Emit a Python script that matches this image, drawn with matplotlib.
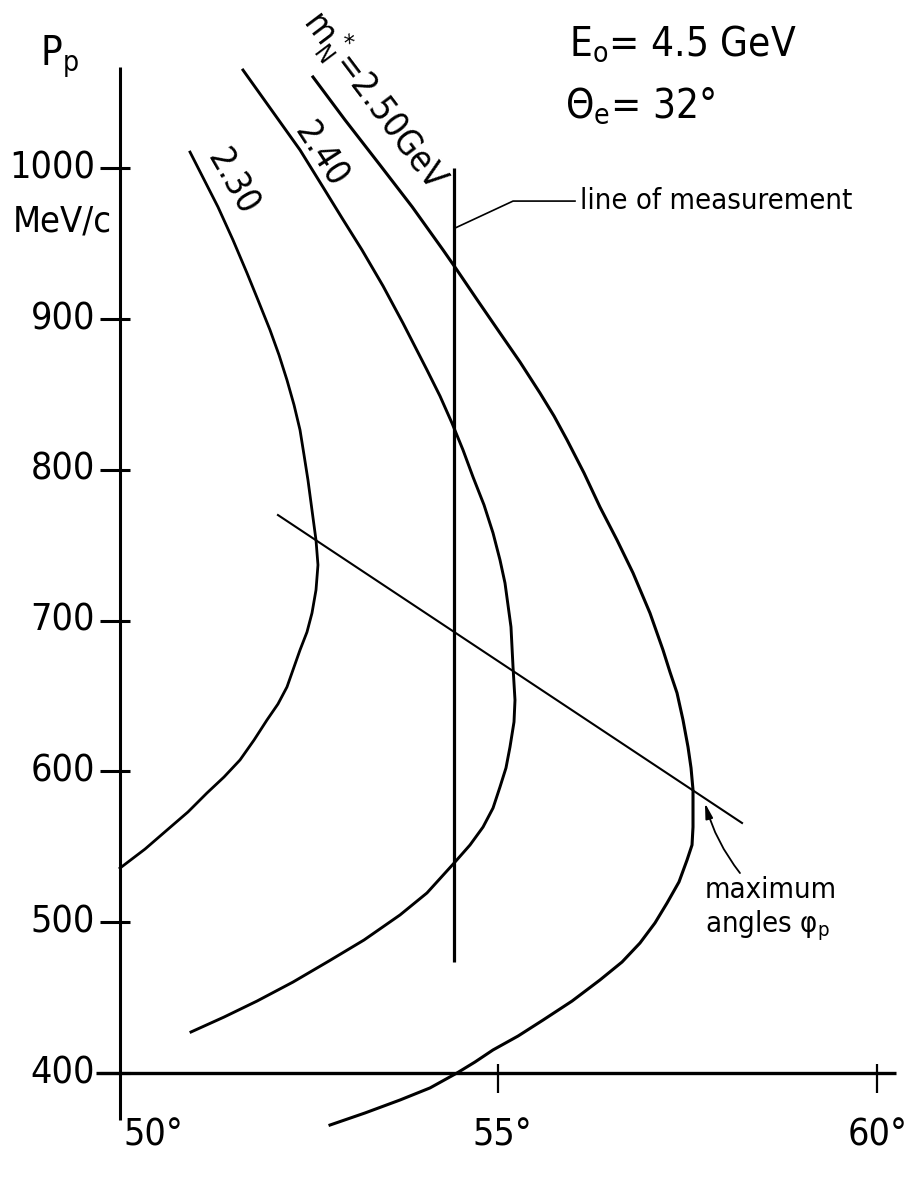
import matplotlib
matplotlib.use('Agg')
import matplotlib.pyplot as plt
from matplotlib import font_manager

# ---------------- data (phi_p in degrees, P_p in MeV/c) ----------------
phi_230 = [50.931, 51.300, 51.498, 51.683, 51.828, 51.987, 52.106, 52.211, 52.304,
           52.383, 52.436, 52.488, 52.541, 52.594, 52.620, 52.594, 52.541, 52.475,
           52.383, 52.211, 52.092, 51.947, 51.776, 51.591, 51.380, 51.155, 50.904,
           50.627, 50.337, 50.007]
p_230 = [1010.7, 974.3, 952.4, 930.5, 912.6, 892.7, 876.1, 859.5, 843.0,
         826.4, 809.8, 793.2, 773.3, 753.4, 736.9, 720.3, 705.0, 692.4,
         680.5, 656.0, 644.7, 634.1, 620.8, 607.6, 596.3, 585.7, 573.1,
         561.1, 548.5, 535.9]

phi_240 = [51.630, 52.383, 52.686, 52.937, 53.201, 53.479, 53.742, 54.059, 54.231,
           54.389, 54.535, 54.667, 54.812, 54.931, 55.023, 55.089, 55.168, 55.195,
           55.221, 55.208, 55.155, 55.102, 55.023, 54.931, 54.799, 54.627, 54.429,
           54.059, 53.703, 53.228, 52.766, 52.290, 51.815, 51.380, 50.944]
p_240 = [1065.1, 1012.1, 987.5, 967.0, 945.8, 921.9, 897.3, 866.2, 848.9,
         831.0, 813.1, 795.2, 776.7, 758.1, 740.2, 724.9, 695.8, 669.2,
         647.3, 632.8, 616.2, 602.3, 589.7, 575.7, 563.1, 551.2, 539.9,
         519.4, 504.8, 488.2, 474.3, 460.3, 447.7, 437.1, 427.2]

phi_250 = [52.554, 52.977, 53.439, 53.865, 54.271, 54.455, 54.733, 55.023, 55.287,
           55.551, 55.736, 55.908, 56.132, 56.343, 56.568, 56.779, 57.003, 57.175,
           57.267, 57.360, 57.439, 57.505, 57.545, 57.571, 57.571, 57.558, 57.492,
           57.386, 57.228, 57.069, 56.871, 56.634, 56.343, 55.974, 55.591, 55.261,
           54.931, 54.693, 54.455, 54.099, 53.703, 53.241, 52.779]
p_250 = [1060.5, 1032.0, 1002.1, 974.3, 945.8, 932.5, 911.9, 890.7, 871.5,
         850.9, 835.7, 819.8, 797.9, 775.3, 753.4, 731.6, 705.0, 680.5,
         665.9, 652.0, 634.1, 616.2, 602.3, 587.7, 563.1, 551.2, 541.2,
         526.7, 512.7, 499.5, 486.2, 473.6, 461.7, 447.7, 435.1, 424.5,
         415.3, 407.3, 400.0, 390.1, 382.1, 373.5, 365.5]

measure_phi = [54.416, 54.416]
measure_p = [1000.0, 473.6]

maxang_phi = [52.092, 58.218]
maxang_p = [770.0, 565.8]

leader_phi = [54.429, 55.195, 56.013]
leader_p = [960.3, 978.2, 978.2]

y_ticks = [400, 500, 600, 700, 800, 900, 1000]
y_tick_labels = ['400', '500', '600', '700', '800', '900', '1000']
x_ticks = [55, 60]
x_tick_labels = ['50°', '55°', '60°']

# ---------------- fonts ----------------
names = {f.name for f in font_manager.fontManager.ttflist}
if 'Liberation Sans Narrow' in names:
    plt.rcParams['font.family'] = ['Liberation Sans Narrow', 'DejaVu Sans']
else:
    plt.rcParams['font.family'] = ['DejaVu Sans']
    plt.rcParams['font.stretch'] = 'condensed'
plt.rcParams['mathtext.fontset'] = 'dejavusans'
plt.rcParams['mathtext.default'] = 'regular'

# ---------------- figure ----------------
fig = plt.figure(figsize=(9.12, 11.83), dpi=100)
ax = fig.add_axes([0, 0, 1, 1])
ax.set_xlim(48.4224, 60.4620)
ax.set_ylim(327.06, 1111.54)
ax.axis('off')

K = 'black'
# axes lines
ax.plot([50, 50], [368.8, 1067.1], color=K, lw=2.2, solid_capstyle='butt')
ax.plot([49.690, 60.251], [400, 400], color=K, lw=2.4, solid_capstyle='butt')
for yt in y_ticks:
    ax.plot([49.743, 50.139], [yt, yt], color=K, lw=2.2, solid_capstyle='butt')
for xt in x_ticks:
    ax.plot([xt, xt], [386.7, 406.0], color=K, lw=1.6, solid_capstyle='butt')

# tick labels
TS = 27
for yt, lab in zip(y_ticks, y_tick_labels):
    ax.text(49.677, yt, lab, ha='right', va='center', fontsize=TS)
ax.text(50.046, 370.8, x_tick_labels[0], ha='left', va='top', fontsize=TS)
ax.text(55.06, 370.8, x_tick_labels[1], ha='center', va='top', fontsize=TS)
ax.text(60.41, 370.8, x_tick_labels[2], ha='right', va='top', fontsize=TS)

ax.text(48.594, 957.7, 'MeV/c', ha='left', va='baseline', fontsize=26)
ax.text(48.95, 1068.4, '$P_p$', ha='left', va='baseline', fontsize=29)

# curves
ax.plot(phi_230, p_230, color=K, lw=2.0, solid_joinstyle='round')
ax.plot(phi_240, p_240, color=K, lw=2.1, solid_joinstyle='round')
ax.plot(phi_250, p_250, color=K, lw=2.2, solid_joinstyle='round')

# line of measurement
ax.plot(measure_phi, measure_p, color=K, lw=2.3, solid_capstyle='butt')
ax.plot(leader_phi, leader_p, color=K, lw=1.2)
ax.text(56.079, 978.2, 'line of measurement', ha='left', va='center', fontsize=21)

# maximum angles line
ax.plot(maxang_phi, maxang_p, color=K, lw=1.5)
ax.text(57.729, 516.0, 'maximum', ha='left', va='baseline', fontsize=21)
ax.text(57.729, 493.5, 'angles $φ_p$', ha='left', va='baseline', fontsize=21)
ax.annotate('', xy=(57.729, 579.0), xytext=(58.191, 532.6),
            arrowprops=dict(arrowstyle='-|>,head_length=0.9,head_width=0.22',
                            lw=1.3, color=K, connectionstyle='arc3,rad=-0.1',
                            shrinkA=0, shrinkB=0))

# curve labels
ax.text(51.497, 990.8, '2.30', ha='center', va='center', rotation=-60,
        rotation_mode='anchor', fontsize=25)
ax.text(52.673, 1008.8, '2.40', ha='center', va='center', rotation=-57,
        rotation_mode='anchor', fontsize=25)
ax.text(53.373, 1045.2, '$m_N^*$=2.50GeV', ha='center', va='center', rotation=-53,
        rotation_mode='anchor', fontsize=25)

# title block
ax.text(55.934, 1075.1, '$E_o$= 4.5 GeV', ha='left', va='baseline', fontsize=29)
ax.text(55.881, 1034.0, '$Θ_e$= 32°', ha='left', va='baseline', fontsize=29)

fig.savefig('out.png', dpi=100, facecolor='white')
